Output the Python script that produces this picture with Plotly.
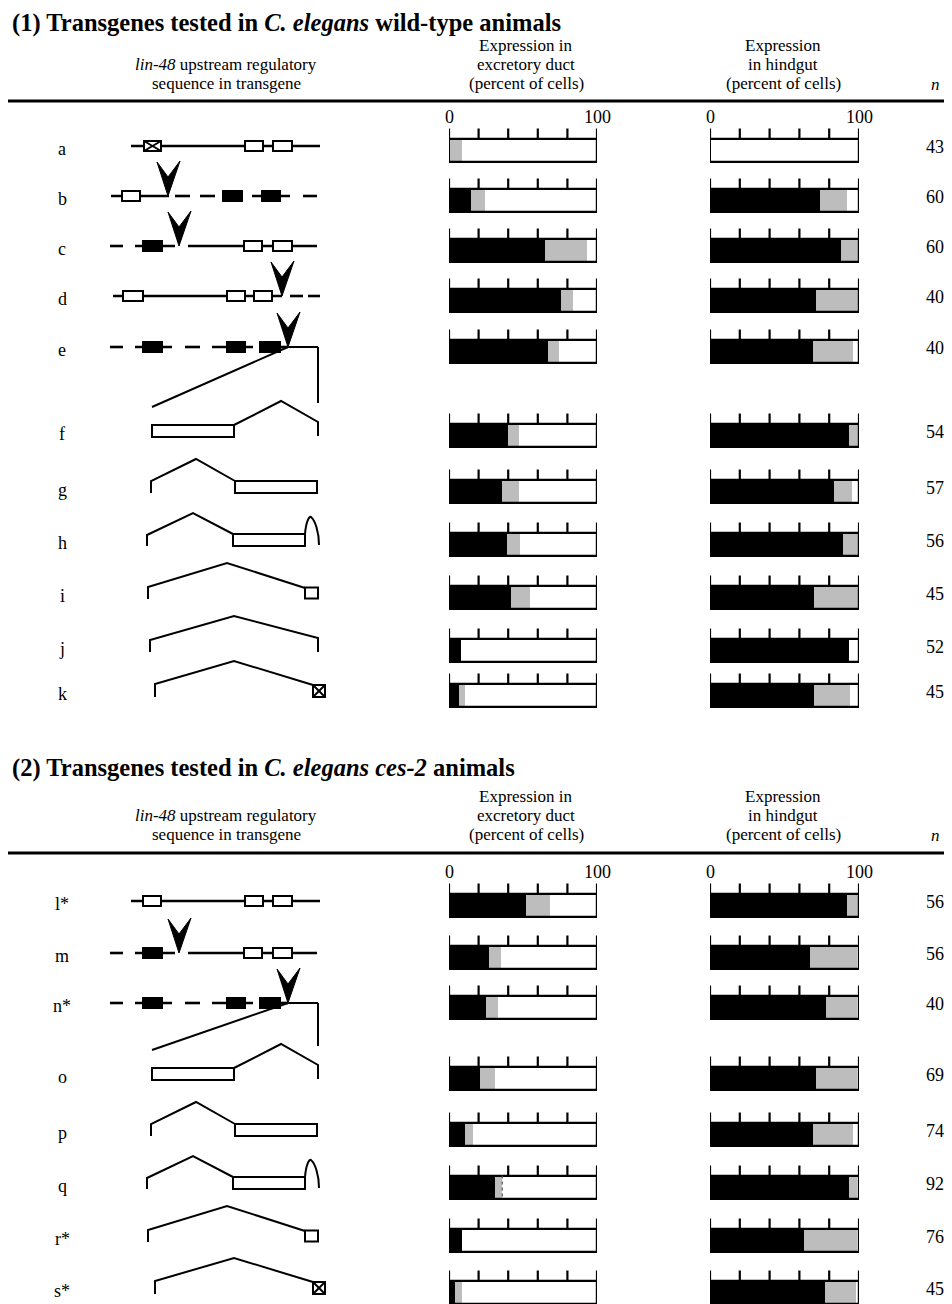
import plotly.graph_objects as go

W, H = 952, 1304          # reference canvas (pixels)
OFF = 8                   # page body margin compensation
FW, FH = W - OFF, H - OFF  # figure size

# ---------------- data ----------------
rows1 = ["a", "b", "c", "d", "e", "f", "g", "h", "i", "j", "k"]
duct1_black = [0, 15, 65, 76, 67, 40, 36, 39, 42, 8, 7]
duct1_gray = [9, 9, 28, 8, 7, 7, 11, 9, 13, 0, 4]
gut1_black = [0, 74, 88, 71, 69, 93, 83, 89, 70, 93, 70]
gut1_gray = [0, 18, 12, 29, 27, 7, 12, 11, 30, 0, 24]
n1 = [43, 60, 60, 40, 40, 54, 57, 56, 45, 52, 45]

rows2 = ["l*", "m", "n*", "o", "p", "q", "r*", "s*"]
duct2_black = [52, 27, 25, 21, 11, 31, 9, 4]
duct2_gray = [16, 8, 8, 10, 5, 5, 0, 5]
gut2_black = [92, 67, 78, 71, 69, 93, 63, 77]
gut2_gray = [8, 32, 21, 28, 27, 6, 36, 21]
n2 = [56, 56, 40, 69, 74, 92, 76, 45]

ticks = [0, 20, 40, 60, 80, 100]

# construct schematic type per row
types1 = ["wt_x", "del_b", "del_c", "del_d", "del_e", "f", "g", "h", "i", "j", "k"]
types2 = ["wt", "del_c", "del_e", "f", "g", "h", "i", "k"]

# ---------------- layout (pixel positions) ----------------
row_y1 = [150, 200, 250, 300, 351, 435, 491, 544, 597, 650, 695]
row_y2 = [905, 957, 1007, 1078, 1134, 1187, 1240, 1292]
BAR_H = 23
SERIF = "Liberation Serif, Times New Roman, serif"
GRAY = "#bdbdbd"

fig = go.Figure()
shapes = []
annots = []

fig.add_trace(go.Scatter(x=[OFF, W], y=[OFF, H], mode="markers", marker=dict(opacity=0),
                         xaxis="x", yaxis="y", hoverinfo="skip", showlegend=False))


def add_bars(xa, ys, black, gray):
    white = [100 - b - g for b, g in zip(black, gray)]
    base_g = list(black)
    base_w = [b + g for b, g in zip(black, gray)]
    common = dict(orientation="h", y=ys, width=BAR_H, xaxis=xa, yaxis="y",
                  showlegend=False, hoverinfo="skip")
    fig.add_trace(go.Bar(x=black, base=[0] * len(ys), marker=dict(color="black", line=dict(width=0)), **common))
    fig.add_trace(go.Bar(x=gray, base=base_g, marker=dict(color=GRAY, line=dict(width=0)), **common))
    fig.add_trace(go.Bar(x=white, base=base_w, marker=dict(color="white", line=dict(width=0)), **common))
    fig.add_trace(go.Bar(x=[100] * len(ys), base=[0] * len(ys),
                         marker=dict(color="rgba(0,0,0,0)", line=dict(color="black", width=2.2)), **common))
    tx, ty = [], []
    for y in ys:
        top = y - BAR_H / 2
        for t in ticks:
            tx += [t, t, None]
            ty += [top, top - 10, None]
    fig.add_trace(go.Scatter(x=tx, y=ty, mode="lines", line=dict(color="black", width=2.2),
                             xaxis=xa, yaxis="y", hoverinfo="skip", showlegend=False))
    for t, lab in [(0, "0"), (100, "100")]:
        annots.append(dict(x=t, y=ys[0] - 33, xref=xa, yref="y", text=lab, showarrow=False,
                           font=dict(family=SERIF, size=18, color="black")))


add_bars("x2", row_y1, duct1_black, duct1_gray)
add_bars("x3", row_y1, gut1_black, gut1_gray)
add_bars("x2", row_y2, duct2_black, duct2_gray)
add_bars("x3", row_y2, gut2_black, gut2_gray)

# ---------------- schematic helpers ----------------
LW = 2.6


def seg(x0, y0, x1, y1, w=LW, dash="solid"):
    shapes.append(dict(type="line", xref="x", yref="y", x0=x0, y0=y0, x1=x1, y1=y1,
                       line=dict(color="black", width=w, dash=dash)))


def hline(x0, x1, y, w=LW):
    seg(x0, y, x1, y, w)


def box(x0, x1, yc, filled=False, h=10):
    shapes.append(dict(type="rect", xref="x", yref="y", x0=x0, x1=x1, y0=yc - h / 2, y1=yc + h / 2,
                       fillcolor="black" if filled else "white", line=dict(color="black", width=2)))


def crossbox(x0, x1, yc, h=10):
    box(x0, x1, yc, False, h)
    seg(x0, yc - h / 2, x1, yc + h / 2, 2)
    seg(x0, yc + h / 2, x1, yc - h / 2, 2)


def poly(pts, w=2):
    p = "M " + " L ".join(f"{x},{y}" for x, y in pts)
    shapes.append(dict(type="path", xref="x", yref="y", path=p, line=dict(color="black", width=w)))


def arrow(cx, tip):
    top = tip - 34
    p = f"M {cx-11},{top} L {cx},{top+15} L {cx+12},{top-1} L {cx},{tip} Z"
    shapes.append(dict(type="path", xref="x", yref="y", path=p, fillcolor="black",
                       line=dict(color="black", width=1)))


def draw(kind, yc, yc_next=None):
    if kind in ("wt", "wt_x"):
        hline(131, 320, yc)
        if kind == "wt_x":
            crossbox(144, 161, yc)
        else:
            box(143, 161, yc)
        box(245, 263, yc)
        box(273, 292, yc)
    elif kind == "del_b":
        hline(111, 169, yc)
        box(122, 140, yc)
        for a, b in [(175, 190), (200, 215), (252, 290), (303, 317)]:
            hline(a, b, yc)
        box(223, 242, yc, True)
        box(262, 280, yc, True)
        arrow(168, yc)
    elif kind == "del_c":
        hline(110, 123, yc)
        hline(135, 175, yc)
        box(143, 162, yc, True)
        arrow(179, yc)
        hline(188, 317, yc)
        box(244, 262, yc)
        box(273, 292, yc)
    elif kind == "del_d":
        hline(113, 282, yc)
        box(123, 143, yc)
        box(227, 245, yc)
        box(254, 272, yc)
        arrow(282, yc)
        hline(290, 303, yc)
        hline(308, 320, yc)
    elif kind == "del_e":
        hline(110, 123, yc)
        hline(135, 172, yc)
        box(143, 162, yc, True)
        hline(185, 200, yc)
        hline(212, 253, yc)
        box(227, 245, yc, True)
        hline(260, 288, yc)
        box(260, 280, yc, True)
        arrow(288, yc)
        hline(288, 318, yc, 2)
        seg(318, yc, 318, yc_next - 28, 2)
        seg(288, yc, 152, yc_next - 24, 2)
    elif kind == "f":
        poly([(234, yc - 6), (281, yc - 30), (318, yc - 9), (318, yc + 5)])
        box(152, 234, yc, h=12)
    elif kind == "g":
        poly([(151, yc + 6), (151, yc - 6), (196, yc - 28), (235, yc - 6)])
        box(235, 317, yc, h=12)
    elif kind == "h":
        poly([(147, yc + 6), (147, yc - 5), (193, yc - 27), (233, yc - 6)])
        box(233, 305, yc, h=12)
        shapes.append(dict(type="path", xref="x", yref="y", line=dict(color="black", width=2),
                           path=f"M 305,{yc-6} C 306,{yc-18} 309,{yc-24} 311,{yc-23} "
                                f"C 315,{yc-20} 319,{yc-8} 319,{yc+5}"))
    elif kind == "i":
        poly([(148, yc + 6), (148, yc - 6), (227, yc - 30), (305, yc - 5)])
        box(305, 318, yc, h=11)
    elif kind == "j":
        poly([(150, yc + 6), (150, yc - 6), (234, yc - 30), (318, yc - 8), (318, yc + 6)])
    elif kind == "k":
        poly([(155, yc + 6), (155, yc - 7), (234, yc - 30), (313, yc - 6)])
        crossbox(313, 325, yc, h=12)


for types, rows in [(types1, row_y1), (types2, row_y2)]:
    for idx, (kind, ry) in enumerate(zip(types, rows)):
        nxt = rows[idx + 1] - 4 if idx + 1 < len(rows) else None
        draw(kind, ry - 4, nxt)

# dotted edge on the gray segment of row q (excretory duct, panel 2)
qi = rows2.index("q")
qx = duct2_black[qi] + duct2_gray[qi]
shapes.append(dict(type="line", xref="x2", yref="y", x0=qx, x1=qx,
                   y0=row_y2[qi] - BAR_H / 2, y1=row_y2[qi] + BAR_H / 2,
                   line=dict(color="#555555", width=1.2, dash="dot")))

# ---------------- text ----------------
def txt(x, y, s, size=17, xanchor="center", bold=False, pad=1):
    if bold:
        s = f"<b>{s}</b>"
    annots.append(dict(x=x, y=y, xref="x", yref="y", text=s, showarrow=False, xanchor=xanchor,
                       yanchor="middle", borderpad=pad,
                       font=dict(family=SERIF, size=size, color="black")))


for labs, rows, ns in [(rows1, row_y1, n1), (rows2, row_y2, n2)]:
    for lab, ry, n in zip(labs, rows, ns):
        txt(62, ry - 1, lab, 18)
        txt(935, ry - 3, str(n), 18)

txt(10, 23, "(1) Transgenes tested in <i>C. elegans</i> wild-type animals", 24.5, "left", True)
txt(10, 768, "(2) Transgenes tested in <i>C. elegans ces-2</i> animals", 24.5, "left", True)

HS = 17
LH = 19
for top, rule_y in [(45, 101), (796, 853)]:
    txt(226, top + LH, "<i>lin-48</i> upstream regulatory", HS, pad=0)
    txt(226, top + 2 * LH, "sequence in transgene", HS, pad=0)
    txt(526, top, "Expression in", HS, pad=0)
    txt(526, top + LH, "excretory duct", HS, pad=0)
    txt(526, top + 2 * LH, "(percent of cells)", HS, pad=0)
    txt(783, top, "Expression", HS, pad=0)
    txt(783, top + LH, "in hindgut", HS, pad=0)
    txt(783, top + 2 * LH, "(percent of cells)", HS, pad=0)
    txt(935, top + 2 * LH + 1, "<i>n</i>", HS, pad=0)
    hline(OFF, W, rule_y, 2.8)

ax_hidden = dict(visible=False, fixedrange=True, showgrid=False, zeroline=False)
fig.update_layout(
    width=FW, height=FH, margin=dict(l=0, r=0, t=0, b=0),
    paper_bgcolor="white", plot_bgcolor="white",
    barmode="overlay", bargap=0,
    shapes=shapes, annotations=annots,
    xaxis=dict(domain=[0, 1], range=[OFF, W], **ax_hidden),
    yaxis=dict(domain=[0, 1], range=[H, OFF], **ax_hidden),
    xaxis2=dict(domain=[(449 - OFF) / FW, (597 - OFF) / FW], range=[0, 100], anchor="y", **ax_hidden),
    xaxis3=dict(domain=[(710 - OFF) / FW, (859 - OFF) / FW], range=[0, 100], anchor="y", **ax_hidden),
    showlegend=False,
)

fig.write_html("out.html")
